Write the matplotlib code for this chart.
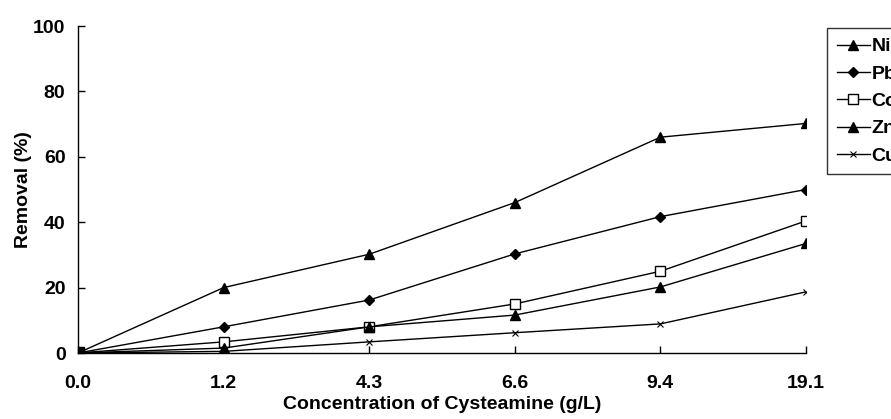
import matplotlib.pyplot as plt
import numpy as np

plt.rcParams['font.family'] = ['Liberation Sans', 'DejaVu Sans']

conc_labels = ["0.0", "1.2", "4.3", "6.6", "9.4", "19.1"]
ni = [0, 20.0, 30.2, 46.0, 66.0, 70.2]
pb = [0, 8.0, 16.2, 30.3, 41.7, 50.0]
co = [0, 3.4, 8.0, 15.0, 25.0, 40.4]
zn = [0, 1.5, 8.0, 11.6, 20.2, 33.5]
cu = [0, 0.5, 3.4, 6.2, 8.9, 18.7]

series = [
    ("Ni", ni, dict(marker="^", ms=7, mfc="black")),
    ("Pb", pb, dict(marker="D", ms=5.5, mfc="black")),
    ("Co", co, dict(marker="s", ms=7, mfc="white")),
    ("Zn", zn, dict(marker="^", ms=7, mfc="black")),
    ("Cu", cu, dict(marker="x", ms=5, mew=0.8)),
]

fig = plt.figure(figsize=(8.91, 4.19), dpi=100)
ax = fig.add_axes([78 / 891, 1 - 353 / 419, (806 - 78) / 891, (353 - 26) / 419])

x = np.arange(len(conc_labels))
for name, vals, style in series:
    ax.plot(x, vals, color="black", lw=1.0, mec="black", label=name, **style)

# overlapped markers at the origin show as a filled block
ax.plot([0], [0], marker="s", ms=8.5, color="black", ls="none", zorder=5)

ax.set_xlim(0, len(conc_labels) - 1)
ax.set_ylim(0, 100)
ax.set_xticks(x)
ax.set_xticklabels(conc_labels)
ax.set_yticks([0, 20, 40, 60, 80, 100])
for s in ["top", "right"]:
    ax.spines[s].set_visible(False)
for s in ["left", "bottom"]:
    ax.spines[s].set_linewidth(1.0)
    ax.spines[s].set_clip_on(False)
ax.tick_params(direction="in", length=5, width=1.0, labelsize=14)
ax.tick_params(axis="x", pad=16)
ax.tick_params(axis="y", pad=9)
for t in ax.get_xticklabels() + ax.get_yticklabels():
    t.set_fontweight("bold")
ax.set_xlabel("Concentration of Cysteamine (g/L)", fontsize=14,
              fontweight="bold", labelpad=3)
ax.set_ylabel("Removal (%)", fontsize=14, fontweight="bold", labelpad=1)

leg = ax.legend(loc="upper left", bbox_to_anchor=(827 / 891, 1 - 28 / 419),
                bbox_transform=fig.transFigure, frameon=True,
                prop=dict(size=14, weight="bold"),
                fancybox=False, edgecolor="black", borderpad=0.5,
                labelspacing=0.5, handlelength=1.7, handletextpad=0.1,
                borderaxespad=0)
leg.get_frame().set_linewidth(1.0)

fig.savefig("out.png", dpi=100)
